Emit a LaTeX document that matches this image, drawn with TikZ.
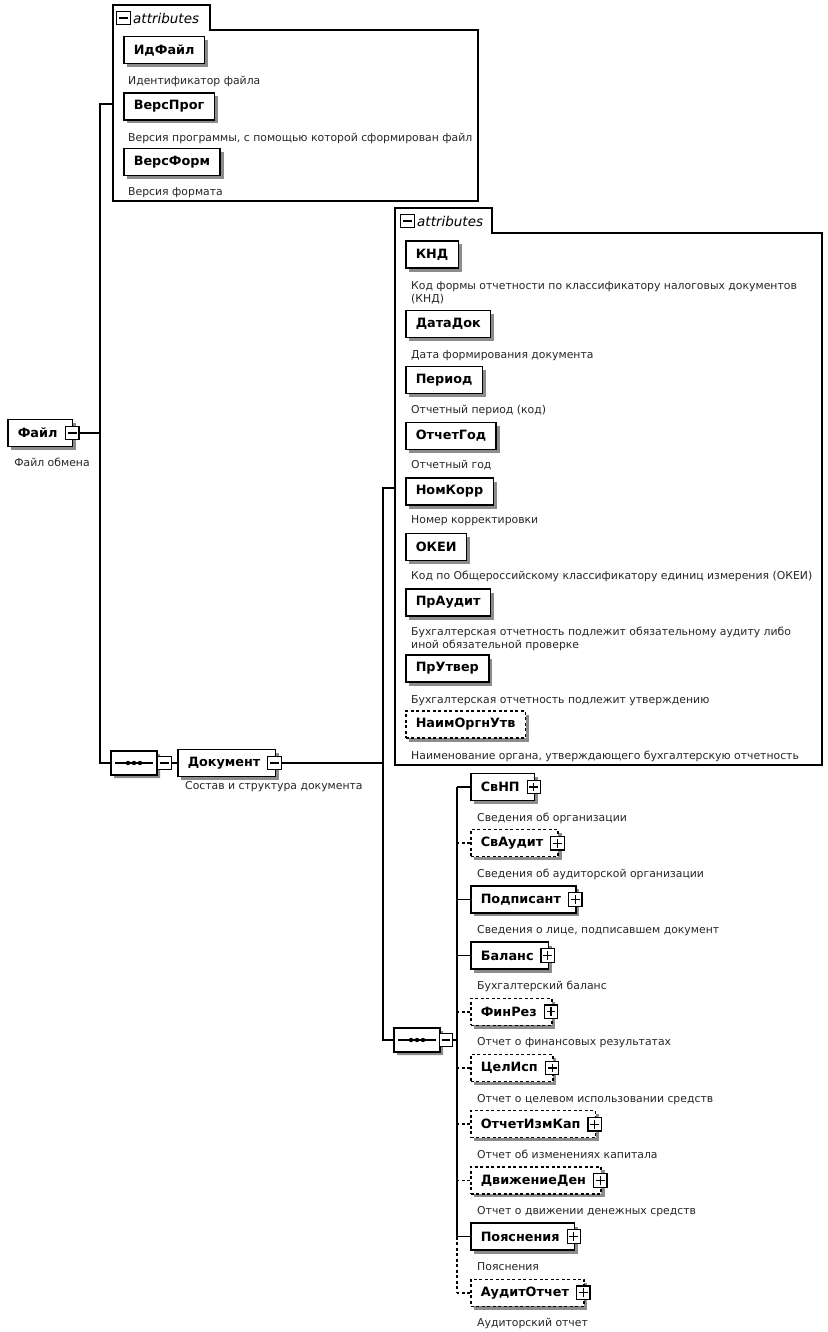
\documentclass[tikz,border=0pt]{standalone}
\usepackage{fontspec}
\setmainfont{DejaVu Sans}
\usetikzlibrary{shapes.misc,shadows}
\begin{document}
\begin{tikzpicture}[x=1pt,y=-1pt,
  conn/.style={line width=1.5pt},
  optconn/.style={conn, dash pattern=on 3pt off 2.5pt},
  elem/.style={draw, line width=1.5pt, fill=white, font=\fontsize{12.8}{14}\selectfont\bfseries,
    minimum height=27pt, inner xsep=10pt, inner ysep=0pt, anchor=west,
    drop shadow={shadow xshift=3.5pt, shadow yshift=-3.5pt, fill=black!45, opacity=1}},
  optelem/.style={elem, dash pattern=on 3pt off 2.5pt},
  haspm/.style={execute at end node={\hspace*{5pt}}},
  desc/.style={anchor=base west, inner sep=0pt, font=\fontsize{10.85}{13}\selectfont, align=left, text=black!85},
  pmbox/.style={draw, line width=1.2pt, fill=white, minimum size=13.5pt, inner sep=0pt},
  pminus/.style={pmbox, path picture={\draw[line width=1.1pt] ([xshift=2.3pt]path picture bounding box.west) -- ([xshift=-2.3pt]path picture bounding box.east);}},
  pplus/.style={pmbox, path picture={\draw[line width=1.1pt] ([xshift=2.3pt]path picture bounding box.west) -- ([xshift=-2.3pt]path picture bounding box.east);
     \draw[line width=1.1pt] ([yshift=-2.3pt]path picture bounding box.north) -- ([yshift=2.3pt]path picture bounding box.south);}},
  container/.style={draw, line width=1.4pt},
  tabtxt/.style={anchor=west, inner sep=0pt, font=\fontsize{13.5}{15}\selectfont\itshape},
  seqbox/.style={draw, line width=1.4pt, fill=white, chamfered rectangle, chamfered rectangle xsep=6pt, chamfered rectangle ysep=6pt,
    minimum width=46pt, minimum height=24pt, inner sep=0pt,
    drop shadow={shadow xshift=3pt, shadow yshift=-3pt, fill=black!45, opacity=1}}
]
\useasboundingbox (0,0) rectangle (827,1332);

% ---------- top attributes container ----------
\draw[container] (113,201) -- (113,5) -- (210,5) -- (210,30) -- (478,30) -- (478,201) -- cycle;
\node[pminus] (tab1m) at (123.5,18) {};
\node[tabtxt] (tab1t) at (133,18) {attributes};
\node[elem] (idf) at (123,50) {ИдФайл};
\node[desc] (idfd) at (128,85) {Идентификатор файла};
\node[elem] (vprog) at (123,106.5) {ВерсПрог};
\node[desc] (vprogd) at (128,141.5) {Версия программы, с помощью которой сформирован файл};
\node[elem] (vform) at (123,162) {ВерсФорм};
\node[desc] (vformd) at (128,196) {Версия формата};

% ---------- root ----------
\node[elem, haspm] (file) at (7,433) {Файл};
\node[pminus] (filem) at ([xshift=-1pt]file.east) {};
\node[desc, anchor=base] (filed) at (52,466) {Файл обмена};

\coordinate (t1a) at (100,104);
\coordinate (t1b) at (100,763);
\coordinate (j1) at (100,433);
\coordinate (a1in) at (113,104);

% ---------- Документ ----------
\node[seqbox] (seq1) at (134,763) {};
\draw[line width=1.3pt] ([xshift=5pt]seq1.west) -- ([xshift=-5pt]seq1.east);
\foreach \dx in {-6,0,6} \fill ([xshift=\dx pt]seq1.center) circle (2.2pt);
\node[pminus] (seq1m) at (164.5,763) {};
\node[elem, haspm] (doc) at (177,763) {Документ};
\node[pminus] (docm) at ([xshift=-1.5pt]doc.east) {};
\node[desc] (docd) at (185,789) {Состав и структура документа};

\draw[conn] (a1in) -- (t1a) -- (t1b) -- (seq1.west);
\draw[conn] (filem.east) -- (j1);
\draw[conn] (seq1m.east) -- (doc.west);

% ---------- second attributes container ----------
\draw[container] (395,765) -- (395,208) -- (492,208) -- (492,233) -- (822,233) -- (822,765) -- cycle;
\node[pminus] (tab2m) at (407.5,221) {};
\node[tabtxt] (tab2t) at (417,221) {attributes};

\node[elem] (knd) at (405,254.5) {КНД};
\node[desc] (kndd) at (411,302) {Код формы отчетности по классификатору налоговых документов\\(КНД)};
\node[elem] (datadok) at (405,324) {ДатаДок};
\node[desc] (datadokd) at (411,358) {Дата формирования документа};
\node[elem] (period) at (405,380) {Период};
\node[desc] (periodd) at (411,413) {Отчетный период (код)};
\node[elem] (otchgod) at (405,436) {ОтчетГод};
\node[desc] (otchgodd) at (411,468) {Отчетный год};
\node[elem] (nomkorr) at (405,491.5) {НомКорр};
\node[desc] (nomkorrd) at (411,523) {Номер корректировки};
\node[elem] (okei) at (405,547) {ОКЕИ};
\node[desc] (okeid) at (411,579) {Код по Общероссийскому классификатору единиц измерения (ОКЕИ)};
\node[elem] (praudit) at (405,602.5) {ПрАудит};
\node[desc] (prauditd) at (411,648) {Бухгалтерская отчетность подлежит обязательному аудиту либо\\иной обязательной проверке};
\node[elem] (prutver) at (405,668.5) {ПрУтвер};
\node[desc] (prutverd) at (411,703) {Бухгалтерская отчетность подлежит утверждению};
\node[optelem] (naim) at (405,724.5) {НаимОргнУтв};
\node[desc] (naimd) at (411,759) {Наименование органа, утверждающего бухгалтерскую отчетность};

\coordinate (t2a) at (383,488);
\coordinate (t2b) at (383,1040);
\coordinate (j2) at (383,763);
\coordinate (a2in) at (395,488);

% ---------- sequence of children ----------
\node[seqbox] (seq2) at (417,1040) {};
\draw[line width=1.3pt] ([xshift=5pt]seq2.west) -- ([xshift=-5pt]seq2.east);
\foreach \dx in {-6,0,6} \fill ([xshift=\dx pt]seq2.center) circle (2.2pt);
\node[pminus] (seq2m) at (446,1040) {};

\draw[conn] (a2in) -- (t2a) -- (t2b) -- (seq2.west);
\draw[conn] (docm.east) -- (j2);

\coordinate (t3a) at (457,787);
\coordinate (t3b) at (457,1236.6);
\coordinate (t3c) at (457,1292.8);
\coordinate (j3) at (457,1040);

\node[elem, haspm] (svnp) at (470,787) {СвНП};
\node[optelem, haspm] (svaud) at (470,843.2) {СвАудит};
\node[elem, haspm] (podp) at (470,899.4) {Подписант};
\node[elem, haspm] (bal) at (470,955.6) {Баланс};
\node[optelem, haspm] (finrez) at (470,1011.8) {ФинРез};
\node[optelem, haspm] (celisp) at (470,1068) {ЦелИсп};
\node[optelem, haspm] (izmkap) at (470,1124.2) {ОтчетИзмКап};
\node[optelem, haspm] (dvden) at (470,1180.4) {ДвижениеДен};
\node[elem, haspm] (poyasn) at (470,1236.6) {Пояснения};
\node[optelem, haspm] (audotch) at (470,1292.8) {АудитОтчет};

\foreach \n in {svnp,svaud,podp,bal,finrez,celisp,izmkap,dvden,poyasn,audotch}
  \node[pplus] (\n p) at ([xshift=-1.5pt]\n.east) {};

\node[desc] (svnpd) at (477,821) {Сведения об организации};
\node[desc] (svaudd) at (477,877.2) {Сведения об аудиторской организации};
\node[desc] (podpd) at (477,933.4) {Сведения о лице, подписавшем документ};
\node[desc] (bald) at (477,989.6) {Бухгалтерский баланс};
\node[desc] (finrezd) at (477,1045.8) {Отчет о финансовых результатах};
\node[desc] (celispd) at (477,1102) {Отчет о целевом использовании средств};
\node[desc] (izmkapd) at (477,1158.2) {Отчет об изменениях капитала};
\node[desc] (dvdend) at (477,1214.4) {Отчет о движении денежных средств};
\node[desc] (poyasnd) at (477,1270.6) {Пояснения};
\node[desc] (audotchd) at (477,1326.8) {Аудиторский отчет};

\draw[conn] (seq2m.east) -- (j3);
\draw[conn] (t3a) -- (t3b);
\draw[optconn] (t3b) -- (t3c);
\foreach \n in {svnp,podp,bal,poyasn}
  \draw[conn] (\n.west) -- (\n.west -| j3);
\foreach \n in {svaud,finrez,celisp,izmkap,dvden,audotch}
  \draw[optconn] (\n.west) -- (\n.west -| j3);
\end{tikzpicture}
\end{document}
